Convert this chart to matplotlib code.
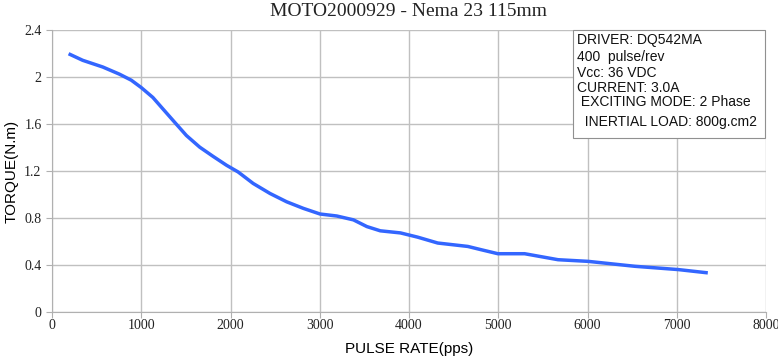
import matplotlib
matplotlib.use("Agg")
import matplotlib.pyplot as plt
from matplotlib.patches import Rectangle

# Data
pulse_rate = [186, 344, 569, 756, 888, 1000, 1130, 1243, 1374, 1506, 1655, 1804,
              1955, 2085, 2254, 2442, 2629, 2816, 3003, 3191, 3378, 3528, 3678,
              3905, 4097, 4322, 4659, 4809, 4996, 5296, 5670, 6007, 6531, 7018,
              7348]
torque = [2.198, 2.142, 2.085, 2.024, 1.973, 1.910, 1.826, 1.728, 1.615, 1.502,
          1.403, 1.325, 1.249, 1.192, 1.094, 1.009, 0.938, 0.882, 0.834, 0.817,
          0.784, 0.727, 0.691, 0.673, 0.637, 0.587, 0.558, 0.530, 0.496, 0.496,
          0.445, 0.431, 0.389, 0.361, 0.333]
xticks = [0, 1000, 2000, 3000, 4000, 5000, 6000, 7000, 8000]
yticks = [0, 0.4, 0.8, 1.2, 1.6, 2.0, 2.4]
ytick_labels = ["0", "0.4", "0.8", "1.2", "1.6", "2", "2.4"]
info_lines = ["DRIVER: DQ542MA", "400  pulse/rev", "Vcc: 36 VDC", "CURRENT: 3.0A",
              " EXCITING MODE: 2 Phase", "  INERTIAL LOAD: 800g.cm2"]
title = "MOTO2000929 - Nema 23 115mm"

fig = plt.figure(figsize=(7.78, 3.58), dpi=100)
ax = fig.add_axes([52/778, 46/358, 714/778, 282/358])

ax.plot(pulse_rate, torque, color="#3366ff", lw=2.5, solid_capstyle="butt",
        solid_joinstyle="round", zorder=3)

ax.set_xlim(0, 8000)
ax.set_ylim(0, 2.4)
ax.set_xticks(xticks)
ax.set_yticks(yticks)
ax.set_yticklabels(ytick_labels)
ax.grid(True, color="#c0c0c0", lw=1.0)
for s in ["top", "right"]:
    ax.spines[s].set_visible(False)
for s in ["left", "bottom"]:
    ax.spines[s].set_color("#b0b0b0")
ax.tick_params(axis="both", colors="#b0b0b0", length=4, labelcolor="#222222",
               labelsize=10)
for lab in ax.get_xticklabels() + ax.get_yticklabels():
    lab.set_family("Liberation Serif")
ax.tick_params(axis="x", pad=1)

ax.set_xlabel("PULSE RATE(pps)", family="Liberation Sans", fontsize=11, labelpad=7)
ax.set_ylabel("TORQUE(N.m)", family="Liberation Sans", fontsize=11, labelpad=4)
fig.text(408/778, 1 - 11/358, title, family="Liberation Serif", fontsize=14,
         ha="center", va="center", color="#222222")

# info box
bx0, bx1 = 573/778, 765/778
by0, by1 = 1 - 138/358, 1 - 30/358
fig.patches.append(Rectangle((bx0, by0), bx1 - bx0, by1 - by0, transform=fig.transFigure,
                             facecolor="white", edgecolor="#909090", lw=0.8, zorder=5))
ys = [40, 57, 73, 88, 102, 122]
for t, y in zip(info_lines, ys):
    fig.text(577/778, 1 - y/358, t, family="Liberation Sans", fontsize=10,
             ha="left", va="center", color="#111111", zorder=6)

fig.savefig("out.png", dpi=100)
